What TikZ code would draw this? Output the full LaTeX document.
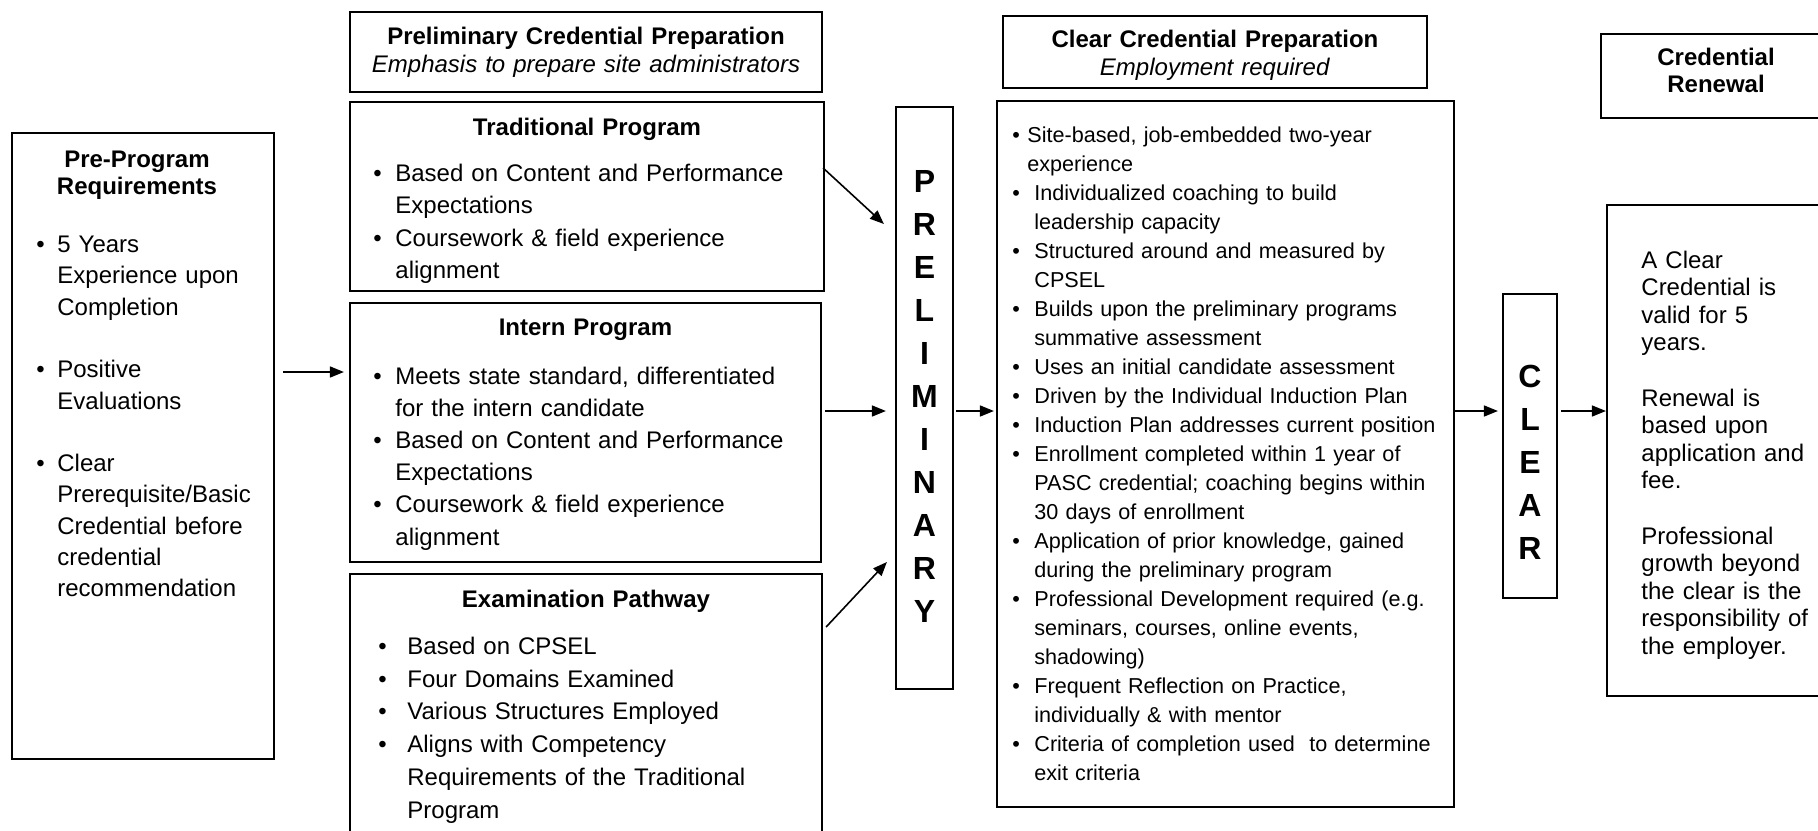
\documentclass[tikz,border=0pt]{standalone}
\usepackage{fontspec}
\setmainfont{Liberation Sans}
\usetikzlibrary{arrows.meta}
\newcommand{\bitem}[1]{\makebox[#1][l]{\textbullet}}
\newcommand{\bcont}[1]{\hspace*{#1}}
\begin{document}
\begin{tikzpicture}[x=0.5pt, y=-0.5pt,
  frame/.style={draw, line width=1.1pt, inner sep=0pt},
  head/.style={anchor=base, inner sep=0pt, align=center, text width=#1, font=\fontsize{12}{13.8}\selectfont\bfseries},
  list/.style={anchor=base west, inner sep=0pt, align=left, text width=#1},
  word/.style={anchor=base, inner sep=0pt, align=center, text width=20pt, font=\fontsize{16}{21.5}\selectfont\bfseries},
  arr/.style={-{Triangle[length=7pt, width=5.5pt]}, line width=0.8pt}]
\clip (0,0) rectangle (1818,830);
\node[frame, minimum width=131pt, minimum height=313pt] (prereq) at (143,446) {};
\node[frame, minimum width=236pt, minimum height=40pt] (prelimhead) at (586,52) {};
\node[frame, minimum width=237pt, minimum height=94.5pt] (trad) at (587,196.5) {};
\node[frame, minimum width=235.5pt, minimum height=129.5pt] (intern) at (585.5,432.5) {};
\node[frame, minimum width=236pt, minimum height=163pt] (exam) at (586,737) {};
\node[frame, minimum width=28.5pt, minimum height=291pt] (prelimbar) at (924.5,398) {};
\node[frame, minimum width=212pt, minimum height=36pt] (clearhead) at (1215,52) {};
\node[frame, minimum width=228.5pt, minimum height=353pt] (clearbody) at (1225.5,454) {};
\node[frame, minimum width=27pt, minimum height=152pt] (clearbar) at (1530,446) {};
\node[frame, minimum width=119.5pt, minimum height=42pt] (renewhead) at (1720.5,76) {};
\node[frame, minimum width=116.5pt, minimum height=245.5pt] (renewbody) at (1723.5,450.5) {};

\node[head=236pt, font=\fontsize{12}{14}\selectfont] (prelimtitle) at (586,44) {\textbf{Preliminary Credential Preparation}\\\textit{Emphasis to prepare site administrators}};
\node[head=212pt, font=\fontsize{12}{13.8}\selectfont] (cleartitle) at (1215,47.5) {\textbf{Clear Credential Preparation}\\\textit{Employment required}};
\node[head=110pt] (renewtitle) at (1716,65) {Credential\\Renewal};

\node[head=120pt, font=\fontsize{12}{13.25}\selectfont\bfseries] (prereqhead) at (137,167.5) {Pre-Program\\Requirements};
\node[list=120pt, font=\fontsize{12}{15.65}\selectfont] (prereqlist) at (36,252.5) {\bitem{10.5pt}5 Years\\\bcont{10.5pt}Experience upon\\\bcont{10.5pt}Completion\\[15.65pt]\bitem{10.5pt}Positive\\\bcont{10.5pt}Evaluations\\[15.65pt]\bitem{10.5pt}Clear\\\bcont{10.5pt}Prerequisite/Basic\\\bcont{10.5pt}Credential before\\\bcont{10.5pt}credential\\\bcont{10.5pt}recommendation};
\node[head=220pt] (tradhead) at (587,135.5) {Traditional Program};
\node[list=225pt, font=\fontsize{12}{16.25}\selectfont] (tradlist) at (373,181) {\bitem{11pt}Based on Content and Performance\\\bcont{11pt}Expectations\\\bitem{11pt}Coursework \& field experience\\\bcont{11pt}alignment};
\node[head=220pt] (internhead) at (585.5,335.5) {Intern Program};
\node[list=225pt, font=\fontsize{12}{16.1}\selectfont] (internlist) at (373,384) {\bitem{11pt}Meets state standard, differentiated\\\bcont{11pt}for the intern candidate\\\bitem{11pt}Based on Content and Performance\\\bcont{11pt}Expectations\\\bitem{11pt}Coursework \& field experience\\\bcont{11pt}alignment};
\node[head=220pt] (examhead) at (586,607.5) {Examination Pathway};
\node[list=220pt, font=\fontsize{12}{16.35}\selectfont] (examlist) at (378,654.5) {\bitem{14.5pt}Based on CPSEL\\\bitem{14.5pt}Four Domains Examined\\\bitem{14.5pt}Various Structures Employed\\\bitem{14.5pt}Aligns with Competency\\\bcont{14.5pt}Requirements of the Traditional\\\bcont{14.5pt}Program};
\node[word] (prelimword) at (924.5,192.5) {P\\R\\E\\L\\I\\M\\I\\N\\A\\R\\Y};
\node[list=216pt, font=\fontsize{10.8}{14.5}\selectfont] (clearlist) at (1012,142.5) {\bitem{7.5pt}Site-based, job-embedded two-year\\\bcont{7.5pt}experience\\\bitem{11pt}Individualized coaching to build\\\bcont{11pt}leadership capacity\\\bitem{11pt}Structured around and measured by\\\bcont{11pt}CPSEL\\\bitem{11pt}Builds upon the preliminary programs\\\bcont{11pt}summative assessment\\\bitem{11pt}Uses an initial candidate assessment\\\bitem{11pt}Driven by the Individual Induction Plan\\\bitem{11pt}Induction Plan addresses current position\\\bitem{11pt}Enrollment completed within 1 year of\\\bcont{11pt}PASC credential; coaching begins within\\\bcont{11pt}30 days of enrollment\\\bitem{11pt}Application of prior knowledge, gained\\\bcont{11pt}during the preliminary program\\\bitem{11pt}Professional Development required (e.g.\\\bcont{11pt}seminars, courses, online events,\\\bcont{11pt}shadowing)\\\bitem{11pt}Frequent Reflection on Practice,\\\bcont{11pt}individually \& with mentor\\\bitem{11pt}Criteria of completion used\ \ to determine\\\bcont{11pt}exit criteria};
\node[word] (clearword) at (1530,387.5) {C\\L\\E\\A\\R};
\node[list=100pt, font=\fontsize{12}{13.8}\selectfont] (renewtext) at (1641,268) {A Clear\\Credential is\\valid for 5\\years.\\[13.8pt]Renewal is\\based upon\\application and\\fee.\\[13.8pt]Professional\\growth beyond\\the clear is the\\responsibility of\\the employer.};

\draw[arr, shorten <=4pt, shorten >=2.5pt] (prereq.east |- 0,372) -- (intern.west |- 0,372);
\draw[arr] ([xshift=-1pt]trad.east |- 0,168) -- ([xshift=-5.5pt]prelimbar.west |- 0,224);
\draw[arr, shorten <=1.5pt, shorten >=4.5pt] (intern.east |- 0,411) -- (prelimbar.west |- 0,411);
\draw[arr] ([xshift=1.5pt]exam.east |- 0,627) -- ([xshift=-4pt]prelimbar.west |- 0,562);
\draw[arr, shorten <=1pt, shorten >=1pt] (prelimbar.east |- 0,411) -- (clearbody.west |- 0,411);
\draw[arr, shorten >=2pt] (clearbody.east |- 0,411) -- (clearbar.west |- 0,411);
\draw[arr, shorten <=1.5pt] (clearbar.east |- 0,411) -- (renewbody.west |- 0,411);
\end{tikzpicture}
\end{document}
